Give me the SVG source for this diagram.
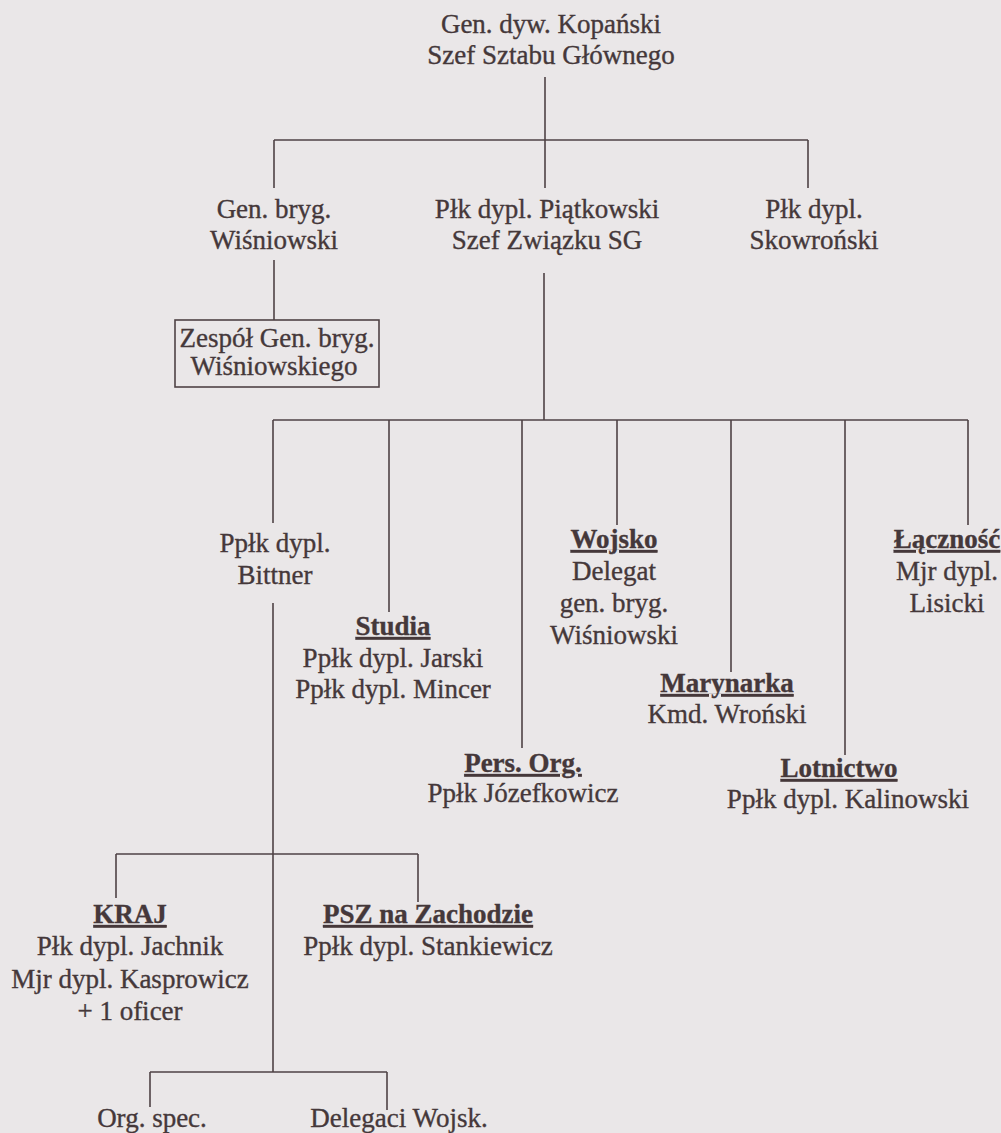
<svg xmlns="http://www.w3.org/2000/svg" width="1001" height="1133" viewBox="0 0 1001 1133">
<style>
text { font-family: "Liberation Serif", "Times New Roman", serif; font-size: 27px; fill: #45383a; stroke: #45383a; stroke-width: 0.35px; text-anchor: middle; }
.h { font-weight: bold; text-decoration: underline; }
.ln { stroke: #4f4345; stroke-width: 1.6; fill: none; }
.box { stroke: #4f4345; stroke-width: 1.6; fill: none; }
</style>
<rect width="1001" height="1133" fill="#eae7e8"/>
<g id="connectors" class="ln">
  <path d="M545 77 V188 M274 140 H808 M274 140 V188 M808 140 V188"/>
  <path d="M274 260 V320"/>
  <path d="M544 273 V420 M273 420 H968 M273 420 V523 M389 420 V612 M522 420 V748 M617 420 V525 M731 420 V672 M845 420 V755 M968 420 V525"/>
  <path d="M273 603 V1072 M116 854 H418 M116 854 V898 M418 854 V902 M150 1072 H387 M150 1072 V1107 M387 1072 V1110"/>
</g>
<g id="n-kopanski">
  <text x="551" y="33">Gen. dyw. Kopański</text>
  <text x="551" y="64">Szef Sztabu Głównego</text>
</g>
<g id="n-wisniowski">
  <text x="274" y="218">Gen. bryg.</text>
  <text x="274" y="249">Wiśniowski</text>
</g>
<g id="n-piatkowski">
  <text x="547" y="218">Płk dypl. Piątkowski</text>
  <text x="547" y="249">Szef Związku SG</text>
</g>
<g id="n-skowronski">
  <text x="814" y="218">Płk dypl.</text>
  <text x="814" y="249">Skowroński</text>
</g>
<g id="n-zespol">
  <rect class="box" x="175" y="320" width="204" height="67"/>
  <text x="277" y="347">Zespół Gen. bryg.</text>
  <text x="274" y="375">Wiśniowskiego</text>
</g>
<g id="n-bittner">
  <text x="275" y="552">Ppłk dypl.</text>
  <text x="275" y="584">Bittner</text>
</g>
<g id="n-studia">
  <text class="h" x="393" y="635">Studia</text>
  <text x="393" y="667">Ppłk dypl. Jarski</text>
  <text x="393" y="698">Ppłk dypl. Mincer</text>
</g>
<g id="n-wojsko">
  <text class="h" x="614" y="548">Wojsko</text>
  <text x="614" y="580">Delegat</text>
  <text x="614" y="612">gen. bryg.</text>
  <text x="614" y="644">Wiśniowski</text>
</g>
<g id="n-lacznosc">
  <text class="h" x="947" y="548">Łączność</text>
  <text x="947" y="580">Mjr dypl.</text>
  <text x="947" y="612">Lisicki</text>
</g>
<g id="n-marynarka">
  <text class="h" x="727" y="692">Marynarka</text>
  <text x="727" y="723">Kmd. Wroński</text>
</g>
<g id="n-persorg">
  <text class="h" x="523" y="772">Pers. Org.</text>
  <text x="523" y="802">Ppłk Józefkowicz</text>
</g>
<g id="n-lotnictwo">
  <text class="h" x="839" y="777">Lotnictwo</text>
  <text x="848" y="808">Ppłk dypl. Kalinowski</text>
</g>
<g id="n-kraj">
  <text class="h" x="130" y="923">KRAJ</text>
  <text x="130" y="955">Płk dypl. Jachnik</text>
  <text x="130" y="988">Mjr dypl. Kasprowicz</text>
  <text x="130" y="1020">+ 1 oficer</text>
</g>
<g id="n-psz">
  <text class="h" x="428" y="923">PSZ na Zachodzie</text>
  <text x="428" y="955">Ppłk dypl. Stankiewicz</text>
</g>
<g id="n-orgspec">
  <text x="152" y="1127">Org. spec.</text>
</g>
<g id="n-delegaci">
  <text x="399" y="1127">Delegaci Wojsk.</text>
</g>
</svg>
